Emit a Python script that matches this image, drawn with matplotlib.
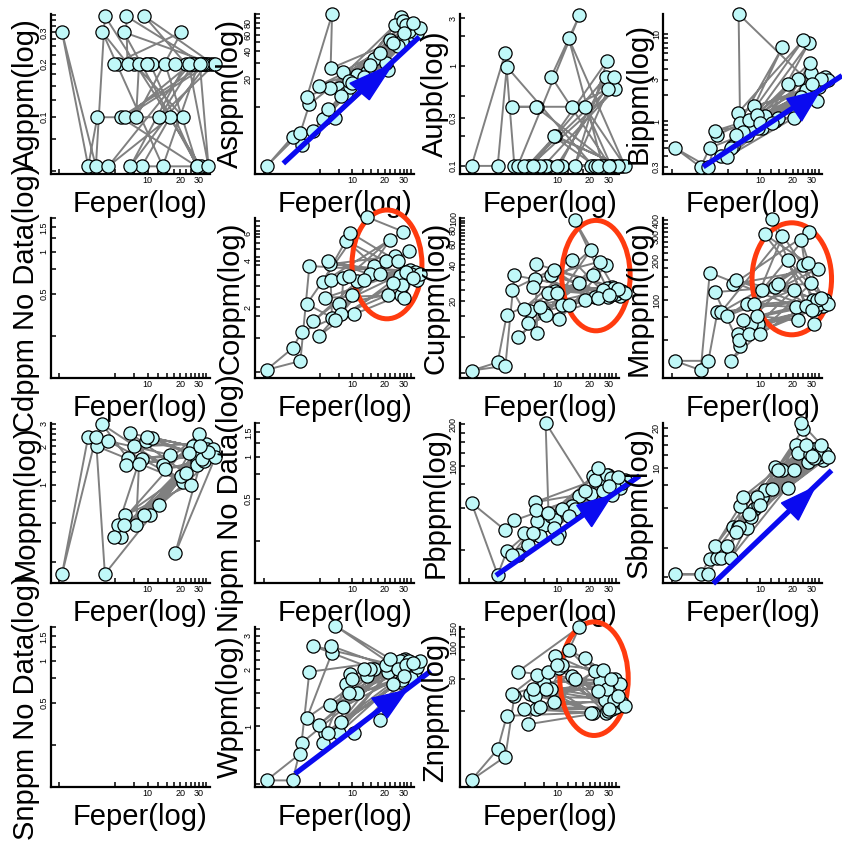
import numpy as np
import matplotlib.pyplot as plt
from matplotlib.patches import Ellipse, Polygon
from matplotlib.ticker import FixedLocator, FixedFormatter, NullFormatter

plt.rcParams['font.family'] = ['Liberation Sans', 'DejaVu Sans']

# Fe (%) of each sample, sorted; all element lists follow this order
FE = [1.6, 2.8, 3.3, 3.4, 3.8, 4.0, 4.3, 4.9, 5.3, 5.6,
      6.0, 6.2, 6.3, 6.5, 6.9, 7.5, 7.8, 8.3, 8.8, 9.3,
      9.6, 9.9, 10.5, 11.0, 12.8, 13.8, 14.5, 16.1, 18.0, 20.5,
      21.5, 22.5, 24.0, 25.0, 26.5, 27.5, 28.5, 29.0, 29.7, 30.5,
      31.0, 31.7, 32.5, 33.5, 34.5, 35.5, 36.7, 38.0, 40.0, 42.5]

# order in which the samples are joined by the grey line
SAMPLE_ORDER = [22, 36, 9, 44, 15, 30, 3, 1, 0, 2, 5, 40, 18, 27, 6, 33, 11, 47, 20, 8,
                38, 25, 4, 13, 12, 42, 17, 16, 29, 7, 35, 23, 45, 14, 31, 19, 48, 10, 37, 26,
                43, 21, 34, 24, 49, 28, 41, 32, 46, 39]

AG = [0.3, 0.053, 0.053, 0.1, 0.3, 0.37, 0.053, 0.2, 0.2, 0.1,
      0.3, 0.1, 0.37, 0.2, 0.053, 0.2, 0.1, 0.2, 0.053, 0.37,
      0.2, 0.2, 0.2, 0.2, 0.1, 0.053, 0.2, 0.1, 0.2, 0.3,
      0.1, 0.2, 0.2, 0.2, 0.2, 0.2, 0.053, 0.053, 0.2, 0.2,
      0.053, 0.2, 0.2, 0.2, 0.2, 0.2, 0.053, 0.2, 0.2, 0.2]
AS = [2.3, 4.8, 5.3, 3.9, 12.9, 10.7, 5.5, 17, 7.4, 7.6,
      9.4, 15.9, 26, 99, 7.6, 16, 13, 24, 14, 19,
      16.5, 18, 20, 22, 21, 24, 28, 33, 38, 30,
      25, 52, 49, 76, 45, 45, 93, 51, 84, 63,
      70, 77, 58, 66, 72, 60, 80, 68, 62, 70]
AU = [0.1, 0.1, 1.36, 0.98, 0.39, 0.1, 0.1, 0.1, 0.1, 0.1,
      0.1, 0.1, 0.39, 0.39, 0.1, 0.1, 0.1, 0.1, 0.78, 0.197,
      0.2, 0.1, 0.1, 0.1, 1.88, 0.39, 0.1, 3.2, 0.39, 0.1,
      0.1, 0.1, 0.1, 0.1, 0.1, 0.1, 0.78, 1.12, 0.59, 0.1,
      0.1, 0.1, 0.1, 0.78, 0.59, 0.1, 0.1, 0.1, 0.1, 0.1]
BI = [0.5, 0.3, 0.3, 0.5, 0.78, 0.7, 0.4, 0.39, 0.5, 0.52,
      0.7, 1.25, 17, 0.96, 0.75, 0.7, 1.05, 0.83, 1.5, 1.2,
      0.83, 0.95, 0.85, 1.15, 0.96, 1.0, 1.1, 7.1, 2.65, 1.1,
      1.2, 3.1, 1.9, 8.5, 2.3, 2.0, 8.0, 4.7, 3.6, 2.7,
      2.3, 2.6, 2.4, 1.7, 2.9, 2.5, 3.1, 2.8, 3.2, 3.0]
CO = [0.78, 1.08, 0.89, 1.38, 2.1, 3.7, 1.61, 1.3, 2.9, 2.3,
      4.0, 3.8, 3.0, 1.7, 1.65, 2.1, 1.8, 3.1, 5.4, 3.2,
      6.1, 2.4, 1.8, 2.95, 3.0, 7.7, 3.3, 3.7, 3.3, 4.0,
      2.4, 5.5, 2.85, 4.3, 4.0, 3.2, 2.4, 2.8, 6.2, 2.3,
      3.4, 3.4, 3.3, 4.6, 3.5, 3.3, 3.1, 3.4, 3.0, 3.3]
CU = [5.2, 6.1, 5.7, 15.3, 25, 32.9, 9.9, 17.3, 13.0, 16.5,
      26.3, 30.7, 41, 10.7, 17.8, 16.3, 15.3, 23.4, 33, 36.5,
      24.4, 23.5, 14, 18.4, 18.5, 44.4, 96, 28.4, 20.3, 54,
      33, 21.6, 21.4, 43, 25, 24.6, 40, 25.6, 21.6, 22.7,
      23, 22.7, 26.5, 26, 24, 23, 25.5, 22, 24.5, 23.5]
MN = [35, 29.8, 35, 161, 115, 81, 81, 76, 35, 132,
      141, 56, 50, 45, 71, 93, 56, 66, 93, 76,
      66, 56, 120, 312, 410, 125, 132, 303, 200, 120,
      89, 71, 283, 183, 90, 190, 323, 89, 134, 85,
      100, 66, 86, 100, 173, 93, 103, 90, 100, 94]
MO = [0.2, 2.39, 2.36, 2.0, 2.97, 0.2, 2.2, 0.39, 0.48, 0.39,
      0.48, 0.58, 1.44, 1.62, 2.53, 2.0, 0.48, 1.45, 1.6, 0.58,
      2.2, 2.39, 0.58, 2.33, 0.69, 1.44, 1.34, 1.72, 0.29, 1.17,
      1.06, 1.23, 1.77, 1.0, 2.0, 1.72, 1.55, 1.44, 2.49, 2.0,
      1.75, 1.6, 1.72, 1.55, 2.1, 1.9, 1.8, 1.7, 1.9, 1.65]
PB = [54.4, 16.5, 34.5, 24.3, 23, 40.7, 23, 33, 27.2, 31.5,
      33, 55, 48, 40, 31.5, 37.9, 206, 46, 44, 36,
      41, 30.5, 32.6, 49.2, 44, 52, 49, 61.4, 66, 63,
      84.7, 79, 97, 82, 66, 80, 73, 87, 87, 72,
      72, 82, 62, 75, 80, 78, 84, 70, 76, 80]
SB = [1.58, 1.58, 1.58, 2.07, 2.57, 2.1, 2.1, 2.57, 2.1, 3.6,
      3.3, 3.6, 3.6, 5.15, 6.05, 3.55, 4.5, 4.3, 4.9, 6.05,
      5.3, 5.3, 6.05, 6.87, 7.0, 10.2, 9.6, 9.6, 7.1, 9.6,
      14.9, 13, 21.8, 19.6, 14.9, 11, 13, 12.8, 12, 12.2,
      13.8, 11.8, 14, 12.5, 13.5, 12, 15, 11.5, 13, 12]
W = [0.52, 0.52, 0.72, 0.82, 1.11, 1.94, 2.66, 1.02, 0.82, 0.92,
     0.92, 1.3, 2.66, 2.45, 3.4, 0.92, 1.05, 1.27, 1.67, 1.5,
     1.9, 1.78, 0.92, 1.5, 2.0, 1.85, 2.0, 2.0, 1.08, 2.1,
     1.94, 2.27, 1.67, 2.1, 2.0, 2.2, 1.72, 1.75, 2.25, 1.85,
     2.27, 2.1, 1.9, 2.2, 2.0, 1.8, 2.15, 1.95, 2.05, 2.2]
ZN = [5.6, 10.9, 9.3, 22.5, 36.1, 34.5, 58.6, 26, 18.7, 36,
      40.6, 34.5, 26.1, 54.8, 27, 45.9, 40, 58.6, 40.6, 30.5,
      83, 68, 64, 68, 95, 53, 50, 155, 79, 24.2,
      24.2, 60, 38.8, 48.2, 61, 31.5, 23.7, 40.6, 24.8, 26,
      33, 50, 26, 31.5, 50, 27, 35, 45, 30, 28]

ELEMENTS = ['Agppm', 'Asppm', 'Aupb', 'Bippm',
            'Cdppm', 'Coppm', 'Cuppm', 'Mnppm',
            'Moppm', 'Nippm', 'Pbppm', 'Sbppm',
            'Snppm', 'Wppm', 'Znppm']
VALUES = {'Agppm': AG, 'Asppm': AS, 'Aupb': AU, 'Bippm': BI,
          'Coppm': CO, 'Cuppm': CU, 'Mnppm': MN, 'Moppm': MO,
          'Pbppm': PB, 'Sbppm': SB, 'Wppm': W, 'Znppm': ZN}

X_MAJOR = [10, 20, 30]
X_MINOR = [1.5, 5, 7.5, 12.5, 15, 17.5, 22.5, 25, 27.5, 32.5, 35]

# y axis: limits, labelled ticks, minor ticks
EMPTY_AXIS = ((0.125, 1.75), [0.5, 1, 1.5], list(np.arange(0.25, 1.8, 0.25)))
Y_AXES = {
    'Agppm': ((0.048, 0.38), [0.1, 0.2, 0.3], list(np.arange(0.05, 0.38, 0.025))),
    'Asppm': ((1.9, 100), [20, 40, 60, 80], list(np.arange(10, 101, 10))),
    'Aupb': ((0.083, 3.3), [0.1, 0.3, 1, 3], [0.2, 0.5, 2]),
    'Bippm': ((0.25, 17), [0.3, 1, 3, 10],
              [0.4, 0.5, 0.6, 0.7, 0.8, 0.9, 2, 4, 5, 6, 7, 8, 9]),
    'Coppm': ((0.69, 7.6), [2, 4, 6], list(np.arange(0.75, 7.6, 0.5))),
    'Cuppm': ((4.5, 100), [20, 40, 60, 80, 100], list(np.arange(5, 100, 5))),
    'Mnppm': ((26, 415), [100, 200, 300, 400], list(np.arange(50, 415, 25))),
    'Moppm': ((0.17, 3.05), [1, 2, 3], list(np.arange(0.25, 3.05, 0.25))),
    'Pbppm': ((14.4, 205), [100, 200], list(np.arange(25, 205, 25))),
    'Sbppm': ((1.36, 21.8), [10, 20], [1.5] + list(np.arange(2.5, 21.8, 2.5))),
    'Wppm': ((0.48, 3.34), [1, 2, 3], list(np.arange(0.5, 3.34, 0.25))),
    'Znppm': ((4.8, 155), [50, 100, 150], list(np.arange(25, 155, 25))),
}

# hand drawn highlights, in axes fractions
ARROWS = {
    'Asppm': ((0.178, 0.066, 1.033, 0.857), [(0.597, 0.567), (0.866, 0.688), (0.719, 0.464)]),
    'Bippm': ((0.253, 0.045, 1.126, 0.615), [(0.778, 0.47), (0.987, 0.522), (0.872, 0.331)]),
    'Pbppm': ((0.226, 0.047, 1.13, 0.67), [(0.734, 0.486), (0.954, 0.548), (0.828, 0.352)]),
    'Sbppm': ((0.316, -0.004, 1.06, 0.704), [(0.745, 0.5), (0.956, 0.6), (0.851, 0.393)]),
    'Wppm': ((0.252, 0.083, 1.105, 0.725), [(0.734, 0.555), (0.954, 0.605), (0.832, 0.431)]),
}
RINGS = {
    'Coppm': ((0.83, 0.71), 0.44, 0.68),
    'Cuppm': ((0.855, 0.64), 0.43, 0.69),
    'Mnppm': ((0.81, 0.62), 0.50, 0.70),
    'Znppm': ((0.843, 0.677), 0.43, 0.71),
}

COL_LEFT = [50.5, 255, 460, 663]
ROW_BOTTOM = [174, 378, 583, 787]
FIG_W, FIG_H = 842, 844

fig = plt.figure(figsize=(FIG_W / 100, FIG_H / 100), dpi=100)

fe = np.array(FE)
order = np.array(SAMPLE_ORDER)

for i, name in enumerate(ELEMENTS):
    r, c = divmod(i, 4)
    ax = fig.add_axes([COL_LEFT[c] / FIG_W, 1 - ROW_BOTTOM[r] / FIG_H, 159 / FIG_W, 160 / FIG_H])
    ax.patch.set_visible(False)
    ax.set_xscale('log')
    ax.set_yscale('log')

    vals = VALUES.get(name)
    if vals is not None:
        y = np.array(vals)
        ax.plot(fe[order], y[order], color='#808080', lw=1.4, zorder=2, clip_on=False)
        ax.plot(fe[order], y[order], 'o', ms=9.5, mfc='#c0f8f8', mec='black', mew=0.9,
                ls='none', zorder=4, clip_on=False)
        ylim, ymaj, ymin = Y_AXES[name]
        label = name + '(log)'
    else:
        ylim, ymaj, ymin = EMPTY_AXIS
        label = name + ' No Data(log)'

    ax.set_xlim(1.25, 37.5)
    ax.set_ylim(*ylim)

    ax.xaxis.set_major_locator(FixedLocator(X_MAJOR))
    ax.xaxis.set_major_formatter(FixedFormatter([str(v) for v in X_MAJOR]))
    ax.xaxis.set_minor_locator(FixedLocator(X_MINOR))
    ax.xaxis.set_minor_formatter(NullFormatter())
    ax.yaxis.set_major_locator(FixedLocator(ymaj))
    ax.yaxis.set_major_formatter(FixedFormatter(['%g' % v for v in ymaj]))
    ax.yaxis.set_minor_locator(FixedLocator([v for v in ymin if v not in ymaj]))
    ax.yaxis.set_minor_formatter(NullFormatter())

    ax.tick_params(which='both', direction='in', length=3.5, width=1.1, labelsize=6.5, pad=1.5,
                   top=False, right=False)
    for lab in ax.get_yticklabels():
        lab.set_rotation(90)
        lab.set_va('center')

    for s in ['top', 'right']:
        ax.spines[s].set_visible(False)
    for s in ['left', 'bottom']:
        ax.spines[s].set_linewidth(1.6)

    ax.set_ylabel(label, fontsize=21, va='center')
    ax.yaxis.set_label_coords(-0.155, 0.5)
    ax.set_xlabel('Feper(log)', fontsize=21, va='center')
    ax.xaxis.set_label_coords(0.565, -0.19)

    if name in ARROWS:
        (x0, y0, x1, y1), tri = ARROWS[name]
        ax.plot([x0, x1], [y0, y1], transform=ax.transAxes, color='#0a0af0', lw=3.8,
                solid_capstyle='butt', zorder=5, clip_on=False)
        ax.add_patch(Polygon(tri, closed=True, transform=ax.transAxes, color='#0a0af0',
                             zorder=5, clip_on=False))
    if name in RINGS:
        center, w, h = RINGS[name]
        ax.add_patch(Ellipse(center, w, h, transform=ax.transAxes, fill=False,
                             ec='#ff3b0f', lw=3.6, zorder=3, clip_on=False))

fig.savefig('out.png', dpi=100)
